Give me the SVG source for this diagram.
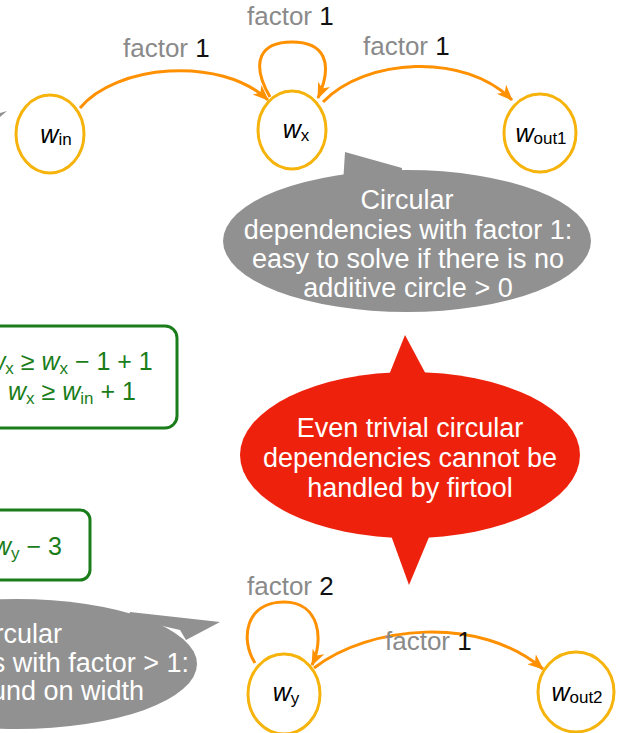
<svg xmlns="http://www.w3.org/2000/svg" width="622" height="733" viewBox="0 0 622 733">
  <style>
    text { font-family: "Liberation Sans", Helvetica, Arial, sans-serif; }
    .node { fill: #ffffff; stroke: #f6b30c; stroke-width: 3; }
    .wire { fill: none; stroke: #ff9000; stroke-width: 3; }
    .lbl { font-size: 26px; fill: #8a8a8a; }
    .num { fill: #111111; }
    .var { font-size: 25px; fill: #000000; font-style: italic; }
    .sub { font-size: 17px; font-style: normal; }
    .eq { font-size: 25px; fill: #1a7d1a; }
    .eqbox { fill: #ffffff; stroke: #1a7d1a; stroke-width: 3; }
    .note { fill: #919191; }
    .alert { fill: #ee220c; }
    .ntxt { font-size: 27px; fill: #ffffff; text-anchor: middle; }
    .ntxt-r { font-size: 27px; fill: #ffffff; text-anchor: end; }
  </style>
  <defs>
    <marker id="ah" viewBox="0 0 16 13" refX="15" refY="6.5" markerWidth="16" markerHeight="13" markerUnits="userSpaceOnUse" orient="auto">
      <path d="M0,0 L16,6.5 L0,13 L4.5,6.5 z" fill="#ff9000"/>
    </marker>
  </defs>

  <!-- callout tail fragment at the left edge -->
  <polygon class="note" points="0,117 7,111 0,113"/>

  <!-- constraint boxes -->
  <g id="eq-top">
    <rect class="eqbox" x="-40" y="326" width="217" height="102" rx="12"/>
    <text class="eq" x="70" y="370" text-anchor="middle"><tspan font-style="italic">w</tspan><tspan class="sub" dy="4">x</tspan><tspan dy="-4"> ≥ </tspan><tspan font-style="italic">w</tspan><tspan class="sub" dy="4">x</tspan><tspan dy="-4"> − 1 + 1</tspan></text>
    <text class="eq" x="72" y="400" text-anchor="middle"><tspan font-style="italic">w</tspan><tspan class="sub" dy="4">x</tspan><tspan dy="-4"> ≥ </tspan><tspan font-style="italic">w</tspan><tspan class="sub" dy="4">in</tspan><tspan dy="-4"> + 1</tspan></text>
  </g>
  <g id="eq-bottom">
    <rect class="eqbox" x="-40" y="510" width="130" height="70" rx="10"/>
    <text class="eq" x="62" y="555" text-anchor="end"><tspan font-style="italic">w</tspan><tspan class="sub" dy="4">y</tspan><tspan dy="-4"> − 3</tspan></text>
  </g>

  <!-- callouts -->
  <g id="note-factor1">
    <ellipse class="note" cx="407" cy="241" rx="184" ry="71"/>
    <polygon class="note" points="343,184 345,152 402,168 402,184"/>
    <text class="ntxt" x="407" y="209">Circular</text>
    <text class="ntxt" x="408" y="239">dependencies with factor 1:</text>
    <text class="ntxt" x="408" y="268">easy to solve if there is no</text>
    <text class="ntxt" x="408" y="297">additive circle &gt; 0</text>
  </g>
  <g id="note-factor2">
    <ellipse class="note" cx="17" cy="664" rx="180" ry="65"/>
    <polygon class="note" points="128,618 130,612 220,622 186,640 180,630"/>
    <text class="ntxt-r" x="62" y="643">rcular</text>
    <text class="ntxt-r" x="189" y="672">s with factor &gt; 1:</text>
    <text class="ntxt-r" x="144" y="700">und on width</text>
  </g>
  <g id="alert-firtool">
    <ellipse class="alert" cx="410" cy="455" rx="170" ry="83"/>
    <polygon class="alert" points="387,380 405,335 429,380"/>
    <polygon class="alert" points="389,530 409,585 432,530"/>
    <text class="ntxt" x="410" y="437">Even trivial circular</text>
    <text class="ntxt" x="410" y="467">dependencies cannot be</text>
    <text class="ntxt" x="410" y="497">handled by firtool</text>
  </g>

  <!-- connectors -->
  <g id="edges">
    <path class="wire" d="M80,108 C115,65 220,55 268,100" marker-end="url(#ah)"/>
    <path class="wire" d="M270,97 C250,62 260,42 292,42 C324,42 334,62 318,98" marker-end="url(#ah)"/>
    <path class="wire" d="M323,102 C365,58 465,52 512,100" marker-end="url(#ah)"/>
    <path class="wire" d="M255,663 C240,640 245,602 284,602 C320,602 324,640 312,665" marker-end="url(#ah)"/>
    <path class="wire" d="M314,668 C370,625 480,615 543,669" marker-end="url(#ah)"/>
  </g>

  <!-- edge labels -->
  <g id="edge-labels">
    <text class="lbl" x="123" y="57">factor <tspan class="num">1</tspan></text>
    <text class="lbl" x="247" y="25">factor <tspan class="num">1</tspan></text>
    <text class="lbl" x="363" y="55">factor <tspan class="num">1</tspan></text>
    <text class="lbl" x="247" y="595">factor <tspan class="num">2</tspan></text>
    <text class="lbl" x="385" y="650">factor <tspan class="num">1</tspan></text>
  </g>

  <!-- width nodes -->
  <g id="w_in">
    <ellipse class="node" cx="50" cy="134" rx="34" ry="39"/>
    <text class="var" x="56" y="143" text-anchor="middle">w<tspan class="sub" dy="2">in</tspan></text>
  </g>
  <g id="w_x">
    <ellipse class="node" cx="292" cy="130" rx="34" ry="39"/>
    <text class="var" x="296" y="138" text-anchor="middle">w<tspan class="sub" dy="3">x</tspan></text>
  </g>
  <g id="w_out1">
    <ellipse class="node" cx="540" cy="133" rx="36" ry="39"/>
    <text class="var" x="541" y="142" text-anchor="middle">w<tspan class="sub" dy="2">out1</tspan></text>
  </g>
  <g id="w_y">
    <ellipse class="node" cx="284" cy="694" rx="36" ry="40"/>
    <text class="var" x="286" y="701" text-anchor="middle">w<tspan class="sub" dy="3">y</tspan></text>
  </g>
  <g id="w_out2">
    <ellipse class="node" cx="576" cy="692" rx="38" ry="40"/>
    <text class="var" x="577" y="701" text-anchor="middle">w<tspan class="sub" dy="2">out2</tspan></text>
  </g>
</svg>
